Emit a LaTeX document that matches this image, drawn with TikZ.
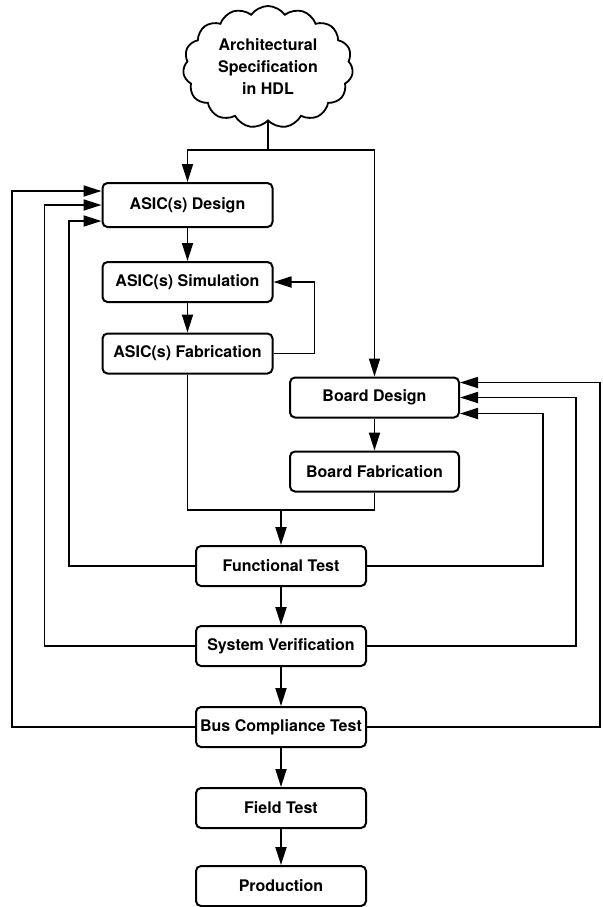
\documentclass[tikz,border=0pt]{standalone}
\usepackage{fontspec}
\setmainfont{TeX Gyre Heros}
\usetikzlibrary{arrows.meta,positioning,calc,shapes.symbols}
\tikzset{
  >={Triangle[length=9pt,width=5.5pt]},
  stage/.style={draw,line width=1pt,rounded corners=2.5pt,minimum width=85pt,minimum height=20pt,inner xsep=1pt,font=\bfseries\fontsize{8}{10}\selectfont,align=center},
  spec/.style={cloud,draw,line width=0.9pt,cloud puffs=15,cloud puff arc=110,cloud ignores aspect,minimum width=85pt,minimum height=61pt,inner sep=0pt,font=\bfseries\fontsize{8}{11}\selectfont,align=center},
  flow/.style={->,line width=0.9pt},
  link/.style={line width=0.9pt},
}
\begin{document}
\begin{tikzpicture}[x=0.5pt,y=-0.5pt]
\useasboundingbox (0,0) rectangle (602,907);
\node[spec] (arch) at (268,67) {Architectural\\Specification\\in HDL};
\node[stage,minimum height=22pt] (adesign) at (187.5,205) {ASIC(s) Design};
\node[stage] (asim) at (187.5,282) {ASIC(s) Simulation};
\node[stage] (afab) at (187.5,353.5) {ASIC(s) Fabrication};
\node[stage,minimum width=84.5pt] (bdesign) at (374.5,397.5) {Board Design};
\node[stage,minimum width=84.5pt] (bfab) at (374.5,471.5) {Board Fabrication};
\node[stage] (ftest) at (281,566) {Functional Test};
\node[stage] (sysver) at (281,646) {System Verification};
\node[stage] (bustest) at (281,727) {Bus Compliance Test};
\node[stage] (fieldtest) at (281,808) {Field Test};
\node[stage] (prod) at (281,886) {Production};
\coordinate (fork) at (arch.south |- 0,150);
\coordinate (merge) at (281,510);
\draw[link] (arch.south) -- (fork);
\draw[flow] (fork) -| (adesign);
\draw[flow] (fork) -| (bdesign);
\draw[flow] (adesign) -- (asim);
\draw[flow] (asim) -- (afab);
\draw[flow] (afab.east) -- ++(20.5pt,0) |- (asim.east);
\draw[flow] (bdesign) -- (bfab);
\draw[link] (afab.south) |- (merge);
\draw[link] (bfab.south) |- (merge);
\draw[flow] (merge) -- (ftest);
\draw[flow] (ftest) -- (sysver);
\draw[flow] (sysver) -- (bustest);
\draw[flow] (bustest) -- (fieldtest);
\draw[flow] (fieldtest) -- (prod);
\draw[flow] (ftest.west) -| ([xshift=-16.3pt,yshift=-8pt]adesign.west) -- ([yshift=-8pt]adesign.west);
\draw[flow] (sysver.west) -| ([xshift=-28.5pt]adesign.west) -- (adesign.west);
\draw[flow] (bustest.west) -| ([xshift=-44.7pt,yshift=7pt]adesign.west) -- ([yshift=7pt]adesign.west);
\draw[flow] (ftest.east) -| ([xshift=41.3pt,yshift=-8pt]bdesign.east) -- ([yshift=-8pt]bdesign.east);
\draw[flow] (sysver.east) -| ([xshift=57.8pt]bdesign.east) -- (bdesign.east);
\draw[flow] (bustest.east) -| ([xshift=70pt,yshift=7.5pt]bdesign.east) -- ([yshift=7.5pt]bdesign.east);
\end{tikzpicture}
\end{document}
